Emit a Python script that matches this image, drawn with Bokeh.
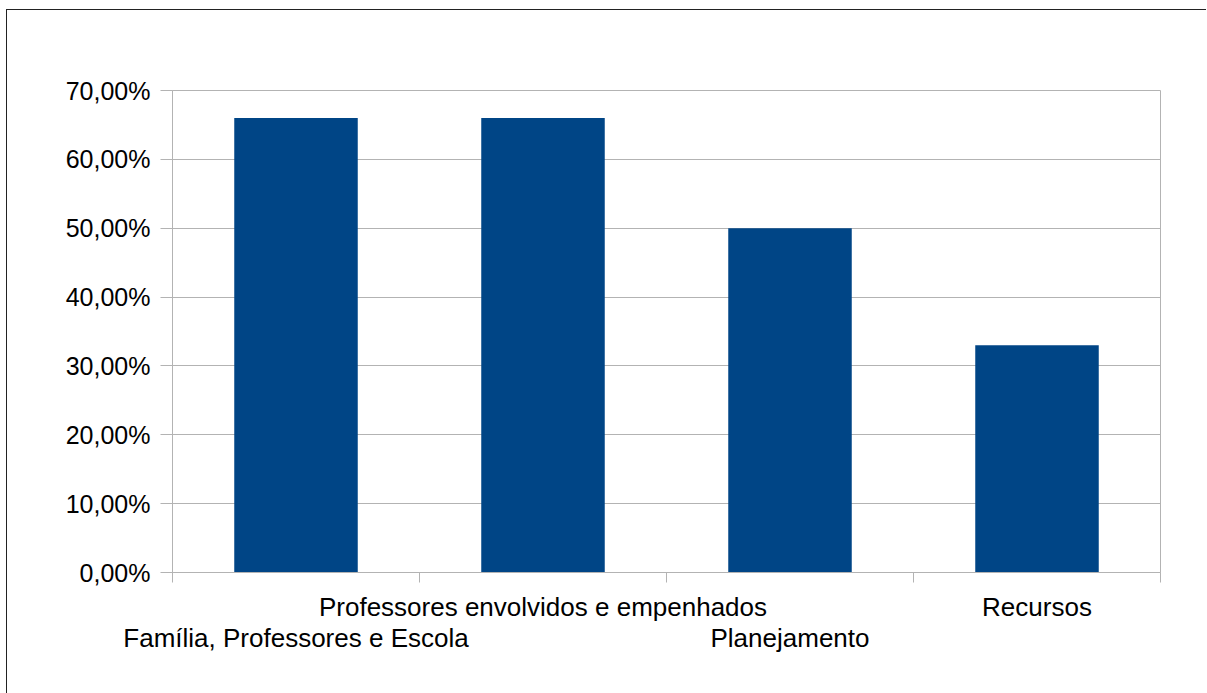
from bokeh.plotting import figure
from bokeh.models import FixedTicker, Range1d, LinearAxis, ColumnDataSource
from bokeh.layouts import column
from bokeh.embed import file_html
from bokeh.resources import INLINE

categories = ["Família, Professores e Escola", "Professores envolvidos e empenhados",
              "Planejamento", "Recursos"]
values = [0.66, 0.66, 0.50, 0.33]
y_ticks = [0.0, 0.1, 0.2, 0.3, 0.4, 0.5, 0.6, 0.7]
y_tick_labels = ["0,00%", "10,00%", "20,00%", "30,00%", "40,00%", "50,00%", "60,00%", "70,00%"]

FONT = "Liberation Sans"
GRID = "#b3b3b3"
BAR = "#004586"

n = len(categories)
centers = [i + 0.5 for i in range(n)]

p = figure(width=1199, height=683, output_backend="svg", toolbar_location=None,
           x_range=Range1d(0, n), y_range=Range1d(0, 0.7),
           min_border_left=165, min_border_right=46, min_border_top=80, min_border_bottom=121)
p.border_fill_color = "#ffffff"

src = ColumnDataSource(dict(x=centers, top=values, cat=categories))
p.vbar(x="x", top="top", bottom=0, width=0.5, source=src, fill_color=BAR, line_color=None)

p.outline_line_color = GRID
p.outline_line_width = 1

# y axis
p.yaxis.ticker = FixedTicker(ticks=y_ticks)
p.yaxis.major_label_overrides = {t: l for t, l in zip(y_ticks, y_tick_labels)}
p.yaxis.major_label_text_font = FONT
p.yaxis.major_label_text_font_size = "25px"
p.yaxis.major_label_text_color = "#000000"
p.yaxis.axis_line_color = GRID
p.yaxis.major_tick_line_color = GRID
p.yaxis.major_tick_out = 12
p.yaxis.major_tick_in = 0
p.yaxis.minor_tick_line_color = None
p.yaxis.major_label_standoff = 10

# x axis: boundary ticks, no labels
p.xaxis.ticker = FixedTicker(ticks=list(range(n + 1)))
p.xaxis.major_label_text_font_size = "0px"
p.xaxis.major_label_standoff = 0
p.xaxis.axis_line_color = GRID
p.xaxis.major_tick_line_color = GRID
p.xaxis.major_tick_out = 10
p.xaxis.major_tick_in = 0
p.xaxis.minor_tick_line_color = None

# staggered category labels: two label-only axes
rows = [[i for i in range(n) if i % 2 == 1], [i for i in range(n) if i % 2 == 0]]
standoffs = [3, -8]
for row, so in zip(rows, standoffs):
    ax = LinearAxis(ticker=FixedTicker(ticks=[centers[i] for i in row]),
                    major_label_overrides={centers[i]: categories[i] for i in row})
    ax.axis_line_color = None
    ax.major_tick_line_color = None
    ax.minor_tick_line_color = None
    ax.major_label_text_font = FONT
    ax.major_label_text_font_size = "26px"
    ax.major_label_text_color = "#000000"
    ax.major_label_standoff = so
    p.add_layout(ax, "below")

p.xgrid.grid_line_color = None
p.ygrid.ticker = FixedTicker(ticks=y_ticks)
p.ygrid.grid_line_color = GRID
p.ygrid.grid_line_width = 1

layout = column(p, styles={"margin-left": "6px", "margin-top": "9px",
                           "border-left": "1px solid #222222",
                           "border-top": "1px solid #222222"})

open("out.html", "w").write(file_html(layout, INLINE))
